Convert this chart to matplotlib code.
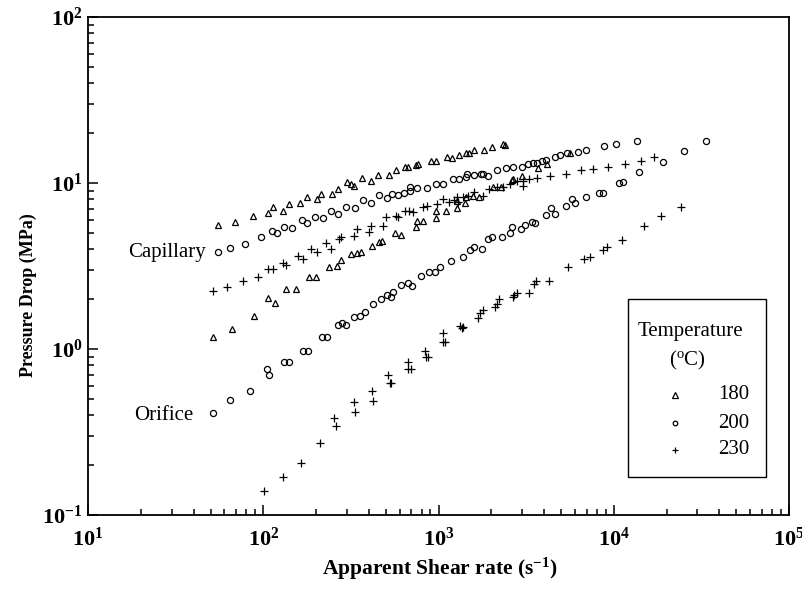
import numpy as np
import matplotlib
matplotlib.use('Agg')
from matplotlib import pyplot as plt
from matplotlib.patches import Rectangle
from matplotlib.ticker import LogLocator, FuncFormatter, NullFormatter

plt.rcParams['font.family'] = ['Liberation Serif', 'DejaVu Serif']
plt.rcParams['mathtext.fontset'] = 'custom'
plt.rcParams['mathtext.rm'] = 'Liberation Serif'
plt.rcParams['mathtext.it'] = 'Liberation Serif:italic'
plt.rcParams['mathtext.bf'] = 'Liberation Serif:bold'



# shear rate (1/s) and pressure drop (MPa); capillary and orifice dies, three melt temperatures
cap180_x = [55, 69, 87, 107, 113, 129, 141, 161, 177, 203, 213, 247, 267, 299, 316, 330, 365, 410, 454, 524,
            572, 644, 670, 745, 768, 902, 968, 1114, 1190, 1315, 1436, 1500, 1596, 1820, 2010, 2340, 2400]
cap180_y = [5.6, 5.85, 6.33, 6.62, 7.14, 6.81, 7.46, 7.55, 8.2, 7.98, 8.58, 8.58, 9.17, 10.2, 9.86, 9.63, 10.7, 10.3, 11.2, 11.2,
            12.0, 12.5, 12.5, 12.8, 13.1, 13.6, 13.6, 14.3, 14.2, 14.8, 15.1, 15.2, 15.7, 15.7, 16.4, 17.1, 17.0]

ori180_x = [52, 66, 88.5, 107, 117, 135, 154, 183, 200, 237, 265, 276, 316, 341, 360, 415, 459, 474, 565, 608,
            745, 757, 811, 968, 968, 1104, 1270, 1270, 1416, 1436, 1567, 1710, 2055, 2265, 2615, 2650, 2980, 3700,
            4140, 5600]
ori180_y = [1.18, 1.32, 1.59, 2.02, 1.88, 2.29, 2.29, 2.70, 2.70, 3.10, 3.18, 3.44, 3.73, 3.79, 3.86, 4.17, 4.43, 4.49, 4.98, 4.86,
            5.46, 5.93, 5.93, 6.13, 6.81, 6.81, 7.05, 7.80, 7.62, 8.21, 8.35, 8.2, 9.50, 9.50, 10.4, 10.5, 11.0, 12.3,
            13.0, 15.1]

cap200_x = [55, 64.6, 78.7, 97.6, 112, 119, 132, 146, 166, 177, 197, 220, 243, 266, 296, 334, 369, 410, 460, 511,
            546, 590, 636, 688, 688, 757, 855, 968, 1057, 1205, 1315, 1436, 1460, 1596, 1740, 1787, 1921, 2163, 2425,
            2670, 2980, 3250, 3470, 3650, 3880, 4100, 4620, 4940, 5430, 6290, 6950, 8840, 10300, 13500]
cap200_y = [3.84, 4.06, 4.31, 4.71, 5.16, 4.98, 5.46, 5.36, 5.98, 5.71, 6.21, 6.15, 6.81, 6.50, 7.19, 7.05, 7.90, 7.55, 8.47, 8.09,
            8.58, 8.47, 8.75, 9.42, 8.99, 9.29, 9.29, 9.86, 9.86, 10.5, 10.6, 10.8, 11.3, 11.2, 11.4, 11.3, 11.0, 12.0, 12.3,
            12.5, 12.5, 13.0, 13.2, 13.2, 13.6, 13.8, 14.3, 14.8, 15.1, 15.4, 15.8, 16.6, 17.1, 18.0]

ori200_x = [52, 64.6, 84.3, 105.5, 108, 131, 140, 169, 179, 215, 230, 268, 283, 296, 330, 356, 381, 424, 468, 506,
            539, 553, 608, 672, 703, 791, 887, 955, 1020, 1178, 1374, 1510, 1596, 1764, 1925, 2010, 2290, 2557, 2615,
            2945, 3110, 3400, 3550, 4100, 4360, 4620, 5330, 5750, 6010, 6950, 8280, 8720, 10720, 11340, 14000,
            19000, 25300, 33600]
ori200_y = [0.413, 0.493, 0.558, 0.759, 0.700, 0.836, 0.836, 0.973, 0.973, 1.18, 1.18, 1.40, 1.44, 1.40, 1.55, 1.58, 1.66, 1.87, 1.99, 2.11,
            2.07, 2.21, 2.43, 2.49, 2.40, 2.75, 2.92, 2.92, 3.13, 3.40, 3.57, 3.94, 4.10, 3.99, 4.58, 4.75, 4.71, 5.02, 5.46,
            5.26, 5.58, 5.85, 5.71, 6.41, 7.05, 6.50, 7.30, 8.04, 7.55, 8.2, 8.75, 8.75, 9.96, 10.2, 11.6,
            13.4, 15.6, 18.0]

cap230_x = [52, 62.4, 76.6, 93.3, 107, 113, 130, 134, 157, 168, 187, 202, 227, 243, 272, 276, 328, 344, 403, 410,
            480, 501, 572, 590, 644, 682, 717, 811, 862, 984, 1065, 1153, 1225, 1270, 1295, 1374, 1479, 1596, 1787,
            1950, 2148, 2323, 2557, 2790, 3045, 3045, 3300, 3630, 4330, 5330, 6480, 7640, 9230, 11640, 14300, 17000]
cap230_y = [2.23, 2.36, 2.56, 2.73, 3.05, 3.02, 3.31, 3.21, 3.63, 3.50, 3.99, 3.83, 4.36, 3.99, 4.58, 4.75, 4.80, 5.26, 5.09, 5.51,
            5.51, 6.21, 6.33, 6.21, 6.81, 6.81, 6.71, 7.14, 7.28, 7.46, 7.98, 7.71, 7.90, 8.21, 7.71, 8.28, 8.35, 8.87, 8.35,
            9.17, 9.42, 9.50, 9.86, 10.3, 9.60, 10.3, 10.5, 10.7, 11.0, 11.3, 12.0, 12.1, 12.5, 13.0, 13.6, 14.3]

ori230_x = [100.7, 129, 165, 211, 254, 261, 328, 334, 415, 424, 516, 528, 539, 667, 672, 694, 837, 853, 875, 1057,
            1067, 1088, 1327, 1357, 1374, 1687, 1725, 1787, 2100, 2150, 2224, 2650, 2700, 2790, 3300, 3510, 3590, 4275,
            5510, 6760, 7310, 8720, 9190, 11140, 14890, 18530, 24100]
ori230_y = [0.139, 0.170, 0.205, 0.270, 0.384, 0.345, 0.482, 0.416, 0.558, 0.483, 0.694, 0.621, 0.621, 0.832, 0.761, 0.756, 0.968, 0.899, 0.891, 1.24,
            1.10, 1.10, 1.38, 1.33, 1.36, 1.53, 1.64, 1.72, 1.80, 1.87, 1.99, 2.07, 2.11, 2.18, 2.18, 2.47, 2.55, 2.55,
            3.13, 3.47, 3.60, 3.94, 4.10, 4.54, 5.54, 6.33, 7.14]

temps   = ['180', '200', '230']
markers = ['^', 'o', '+']
msizes  = [5.0, 4.4, 5.8]
series  = [(cap180_x, cap180_y, ori180_x, ori180_y),
           (cap200_x, cap200_y, ori200_x, ori200_y),
           (cap230_x, cap230_y, ori230_x, ori230_y)]




plt.close('all')
fig = plt.figure(figsize=(8.03, 5.92), dpi=100)
ax  = fig.add_axes([0.1096, 0.1301, 0.873, 0.8412])

for (xc, yc, xo, yo), m, ms in zip(series, markers, msizes):
    kw = dict(ls='none', marker=m, ms=ms, mfc='none', mec='k', mew=0.9)
    ax.plot(xc, yc, **kw)
    ax.plot(xo, yo, **kw)

ax.set_xscale('log')
ax.set_yscale('log')
ax.set_xlim(10, 1e5)
ax.set_ylim(0.1, 100)

fmt = FuncFormatter(lambda v, p: r'$\mathbf{10^{%d}}$' % int(round(np.log10(v))))
for axis in (ax.xaxis, ax.yaxis):
    axis.set_major_locator(LogLocator(base=10, numticks=10))
    axis.set_minor_locator(LogLocator(base=10, subs=np.arange(2, 10), numticks=10))
    axis.set_major_formatter(fmt)
    axis.set_minor_formatter(NullFormatter())
ax.tick_params(which='both', direction='in', top=False, right=False, width=1.1, colors='k')
ax.tick_params(which='major', length=7, labelsize=16)
ax.tick_params(which='minor', length=4)
ax.tick_params(axis='x', which='major', pad=9)
ax.tick_params(axis='y', which='major', pad=4)
for sp in ax.spines.values():
    sp.set_linewidth(1.3)

ax.set_xlabel(r'Apparent Shear rate (s$^{\mathbf{-1}}$)', fontsize=15.5, fontweight='bold')
ax.set_ylabel('Pressure Drop (MPa)', fontsize=13, fontweight='bold')
ax.xaxis.set_label_coords(0.502, -0.082)
ax.yaxis.set_label_coords(-0.073, 0.442)

ax.text(47, 3.8, 'Capillary', fontsize=15, ha='right', va='center')
ax.text(40, 0.40, 'Orifice', fontsize=15, ha='right', va='center')

# legend box, drawn by hand in axes fractions
tr = ax.transAxes
ax.add_patch(Rectangle((0.7703, 0.0763), 0.1969, 0.3574, transform=tr, fill=False,
                       ec='k', lw=1.0, zorder=5))
ax.text(0.8588, 0.3675, 'Temperature', transform=tr, fontsize=15, ha='center', va='center')
ax.text(0.8555, 0.3112, r'($^{\rm o}$C)', transform=tr, fontsize=15, ha='center', va='center')
key_y = [0.2410, 0.1847, 0.1305]
for m, ms, t, yk in zip(markers, msizes, temps, key_y):
    ax.plot([0.8374], [yk], transform=tr, ls='none', marker=m, ms=ms*0.75,
            mfc='none', mec='k', mew=0.9, clip_on=False)
    ax.text(0.8987, yk, t, transform=tr, fontsize=15, ha='left', va='center')

plt.savefig('out.png', dpi=100)
